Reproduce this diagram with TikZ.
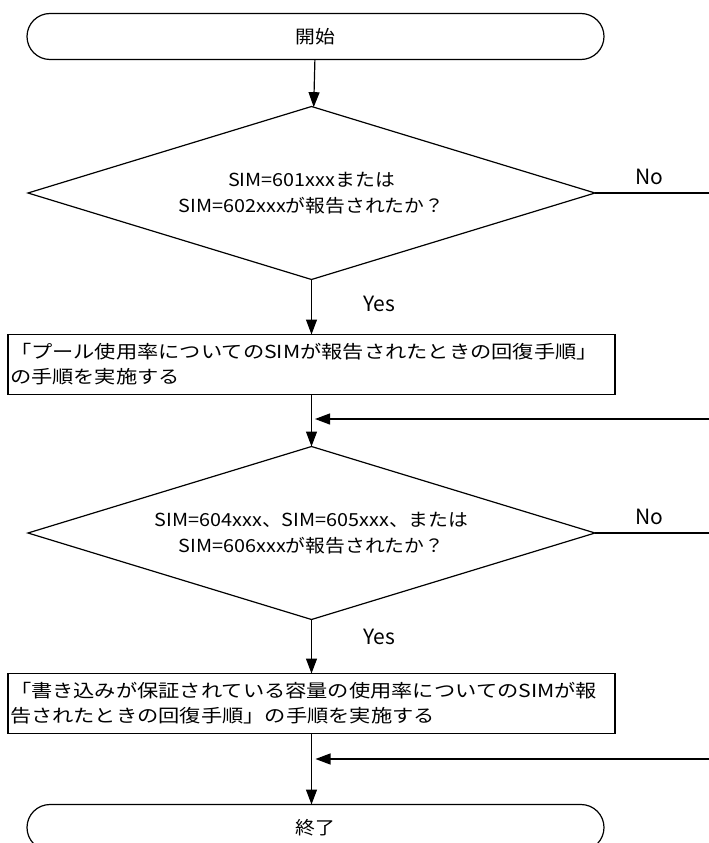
\documentclass[tikz,border=0pt]{standalone}
\usepackage{fontspec}
\setmainfont{Noto Sans CJK JP}
\newfontfamily\diafont[FakeStretch=1.1]{Noto Sans CJK JP}
\newfontfamily\boxfont[FakeStretch=1.18]{Noto Sans CJK JP}
\usetikzlibrary{positioning, arrows.meta, shapes.geometric, calc}

\begin{document}
\begin{tikzpicture}[
    x=1pt, y=1pt,
    node distance=50pt, auto,
    line width=1.2pt,
    >={Triangle[length=15pt, width=11pt]},
    term/.style={rectangle, draw, rounded corners=23pt, minimum width=577pt, minimum height=46pt, inner sep=0pt, outer sep=0pt, font=\diafont\fontsize{18}{22}\selectfont},
    decision/.style={diamond, draw, aspect=3.28, minimum width=567pt, minimum height=173pt, inner sep=0pt, outer sep=0pt, align=center, font=\diafont\fontsize{18}{26}\selectfont},
    block/.style={rectangle, draw, text width=603pt, minimum height=60pt, inner xsep=2pt, inner ysep=0pt, outer sep=0pt, align=left, font=\boxfont\fontsize{18}{25}\selectfont},
    yesno/.style={font=\fontsize{21}{24}\selectfont},
]
\path [use as bounding box] (0,0) rectangle (709,-843);
\coordinate (rim) at (709,0);

\node [term] (start) at (315.5,-36.5) {開始};
\node [decision, below=47pt of start, xshift=-4pt] (sim1) {SIM=601xxxまたは\\SIM=602xxxが報告されたか？};
\node [block, below=55pt of sim1] (pool) {「プール使用率についてのSIMが報告されたときの回復手順」\\の手順を実施する};
\node [decision, below=52pt of pool] (sim2) {SIM=604xxx、SIM=605xxx、または\\SIM=606xxxが報告されたか？};
\node [block, below=54pt of sim2] (capa) {「書き込みが保証されている容量の使用率についてのSIMが報\\告されたときの回復手順」の手順を実施する};
\node [term, below=71pt of capa, xshift=4pt] (finish) {終了};

\coordinate (back1) at (709,-419);
\coordinate (back2) at (709,-759);

\draw [->] (start) -- (sim1);
\draw [->] (sim1) -- node[yesno, pos=0.45, right=48pt]{Yes} (pool);
\draw (sim1.east) -- node[yesno, pos=0.48, above=4.5pt]{No} (sim1.east -| rim);
\draw [->] (pool) -- (sim2);
\draw [->, shorten >=3.5pt] (back1) -- (back1 -| sim2.north);
\draw [->] (sim2) -- node[yesno, pos=0.33, right=48pt]{Yes} (capa);
\draw (sim2.east) -- node[yesno, pos=0.48, above=4.5pt]{No} (sim2.east -| rim);
\draw [->] (capa.south) -- (capa.south |- finish.north);
\draw [->, shorten >=4pt] (back2) -- (back2 -| capa.south);
\end{tikzpicture}
\end{document}
